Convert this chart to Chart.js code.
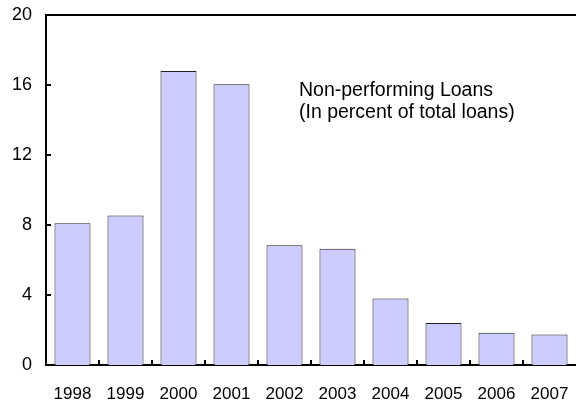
<!DOCTYPE html>
<html lang="en">
<head>
    <meta charset="UTF-8">
    <title>Non-performing Loans</title>
    <script src="https://cdn.jsdelivr.net/npm/chart.js"></script>
    <style>
        body { margin: 0; background: #fff; }
    </style>
</head>
<body>
    <canvas id="nplChart" width="576" height="403"></canvas>

    <script>
        // Data
        const years = ['1998', '1999', '2000', '2001', '2002', '2003', '2004', '2005', '2006', '2007'];
        const nplValues = [8.1, 8.55, 16.8, 16.05, 6.85, 6.65, 3.8, 2.4, 1.85, 1.75];
        const yTicks = [0, 4, 8, 12, 16, 20];
        const noteLines = ['Non-performing Loans', '(In percent of total loans)'];

        const FONT = '"Liberation Sans", Arial, sans-serif';

        // Small tick marks pointing into the plot, plus the text note
        const extras = {
            id: 'extras',
            afterDraw(chart) {
                const ctx = chart.ctx;
                const x = chart.scales.x;
                const y = chart.scales.y;
                const area = chart.chartArea;
                ctx.save();
                ctx.strokeStyle = '#000';
                ctx.lineWidth = 2;
                ctx.beginPath();
                yTicks.forEach(v => {
                    if (v === 0 || v === 20) return;
                    const py = Math.round(y.getPixelForValue(v));
                    ctx.moveTo(area.left, py);
                    ctx.lineTo(area.left + 5, py);
                });
                const half = (x.getPixelForValue(1) - x.getPixelForValue(0)) / 2;
                for (let i = 0; i < years.length - 1; i++) {
                    const px = Math.round(x.getPixelForValue(i) + half);
                    ctx.moveTo(px, area.bottom);
                    ctx.lineTo(px, area.bottom - 5);
                }
                ctx.stroke();

                ctx.fillStyle = '#000';
                ctx.font = '19.5px ' + FONT;
                ctx.textBaseline = 'alphabetic';
                ctx.fillText(noteLines[0], 299, 96);
                ctx.fillText(noteLines[1], 299, 118);
                ctx.restore();
            }
        };

        // keep the plot box where the picture has it, whatever the labels want
        function noPadding(scale) {
            scale.paddingTop = 0;
            scale.paddingBottom = 0;
            scale.paddingLeft = 0;
            scale.paddingRight = 0;
        }

        const ctx = document.getElementById('nplChart').getContext('2d');
        const nplChart = new Chart(ctx, {
            type: 'bar',
            data: {
                labels: years,
                datasets: [{
                    data: nplValues,
                    backgroundColor: '#CCCCFF',
                    borderColor: '#222',
                    borderWidth: 1,
                    categoryPercentage: 1,
                    barPercentage: 0.68
                }]
            },
            options: {
                responsive: false,
                animation: false,
                devicePixelRatio: 1,
                layout: { padding: { top: 15, right: 0, left: 0, bottom: 0 } },
                plugins: {
                    legend: { display: false },
                    tooltip: { enabled: false }
                },
                scales: {
                    x: {
                        grid: { display: false, drawTicks: false, offset: true },
                        border: { display: true, color: '#000', width: 2 },
                        ticks: {
                            color: '#000',
                            font: { size: 17, family: FONT },
                            padding: 19,
                            maxRotation: 0
                        },
                        afterFit(scale) { scale.height = 38; noPadding(scale); }
                    },
                    xTop: {
                        position: 'top',
                        grid: { display: false, drawTicks: false },
                        border: { display: true, color: '#000', width: 2 },
                        ticks: { display: false },
                        afterFit(scale) { scale.height = 0; noPadding(scale); }
                    },
                    y: {
                        min: 0,
                        max: 20,
                        afterBuildTicks(scale) {
                            scale.ticks = yTicks.map(v => ({ value: v }));
                        },
                        grid: { display: false, drawTicks: false },
                        border: { display: true, color: '#000', width: 2 },
                        ticks: {
                            color: '#000',
                            font: { size: 18, family: FONT },
                            padding: 14
                        },
                        afterFit(scale) { scale.width = 46; noPadding(scale); }
                    }
                }
            },
            plugins: [extras]
        });
    </script>
</body>
</html>
